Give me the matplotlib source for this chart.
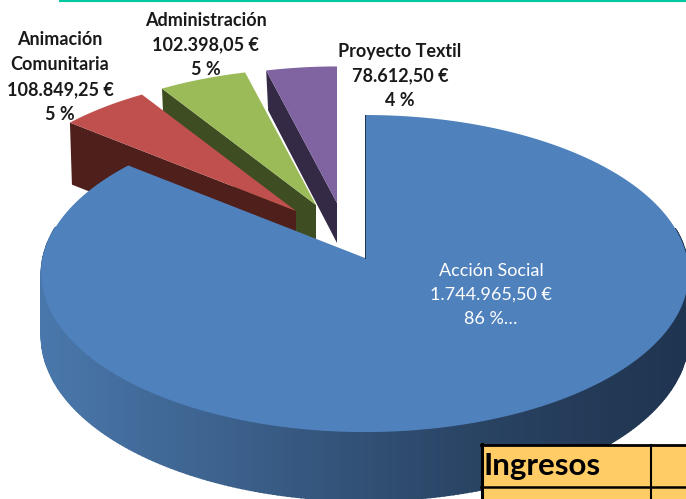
import numpy as np
import matplotlib
matplotlib.use('Agg')
import matplotlib.pyplot as plt
from matplotlib.colors import LinearSegmentedColormap
from matplotlib.patches import Polygon, Rectangle

# chart values
names = ['Acción Social', 'Animación\nComunitaria', 'Administración', 'Proyecto Textil']
amounts = [1744965.50, 108849.25, 102398.05, 78612.50]
amount_labels = ['1.744.965,50 €', '108.849,25 €', '102.398,05 €', '78.612,50 €']
percent_labels = ['86 %…', '5 %', '5 %', '4 %']
table_header = 'Ingresos'

top_colors = ['#4f81bd', '#c0504d', '#9bbb59', '#8064a2']
wall_colors = ['#1f3450', '#4f1f1c', '#3f4d22', '#342a45']
label_pos = [(491, 295), (60, 77), (206, 45), (400, 76)]

# pie shape, in pixels of the picture
RX, RY, K = 322, 157, 0.098
CENTER = (365, 258)
BLUE_DEPTH = 62
SLICE_APEX = [None, (296, 211), (316, 205), (337, 203)]
SLICE_DEPTH = [None, 62, 45, 40]
SLICE_SCALE = 0.955
EDGE_NUDGE = [0, 0, -0.8, -0.7, 0]  # degrees, the gaps in the picture sit a bit further round
FONT = ['Lato', 'Liberation Sans']


def project(theta, apex, scale=1.0):
    # theta in degrees, clockwise from the top
    u = np.sin(np.radians(theta))
    v = np.cos(np.radians(theta))
    s = scale / (1 + K * v)
    return apex[0] + RX * u * s, apex[1] - RY * v * s, s


fig = plt.figure(figsize=(6.86, 4.99), dpi=100)
ax = fig.add_axes([0, 0, 1, 1])
ax.set_xlim(0, 686)
ax.set_ylim(499, 0)
ax.axis('off')

fractions = np.array(amounts) / np.sum(amounts)
edges = np.concatenate([[0], np.cumsum(fractions) * 360])
edges = edges + np.array(EDGE_NUDGE)

# small exploded slices, back to front
for i in [3, 2, 1]:
    th = np.linspace(edges[i], edges[i + 1], 40)
    x, y, s = project(th, SLICE_APEX[i], SLICE_SCALE)
    apex = SLICE_APEX[i]
    d = SLICE_DEPTH[i]
    wall = [apex, (x[0], y[0]), (x[0] + 2, y[0] + d), (apex[0], apex[1] + d)]
    ax.add_patch(Polygon(wall, closed=True, fc=wall_colors[i], ec='none', zorder=2 + 3 - i))
    face = [apex] + list(zip(x, y))
    ax.add_patch(Polygon(face, closed=True, fc=top_colors[i], ec='none', zorder=2 + 3 - i))

# big slice, side first with a gradient
side_cmap = LinearSegmentedColormap.from_list('side', ['#4a77ab', '#3a5e88', '#2a4464', '#1f3450'])
th = np.linspace(edges[0], edges[1], 400)
x, y, s = project(th, CENTER)
for j in range(len(th) - 1):
    if np.cos(np.radians(th[j])) > 0.2:
        continue
    strip = [(x[j], y[j]), (x[j + 1], y[j + 1]),
             (x[j + 1], y[j + 1] + BLUE_DEPTH * s[j + 1]), (x[j], y[j] + BLUE_DEPTH * s[j])]
    col = side_cmap(np.clip((x[j] - 41) / 640, 0, 1))
    ax.add_patch(Polygon(strip, closed=True, fc=col, ec=col, lw=1.2, zorder=6))
face = [CENTER] + list(zip(x, y))
ax.add_patch(Polygon(face, closed=True, fc=top_colors[0], ec='none', zorder=7))
ax.plot([CENTER[0], CENTER[0]], [y[0], CENTER[1]], color='#1f3450', lw=0.7, zorder=8)

# labels
ax.text(label_pos[0][0], label_pos[0][1],
        names[0] + '\n' + amount_labels[0] + '\n' + percent_labels[0],
        color='white', family=FONT, fontsize=13, ha='center', va='center',
        linespacing=1.6, zorder=10)
for i in [1, 2, 3]:
    ax.text(label_pos[i][0], label_pos[i][1],
            names[i] + '\n' + amount_labels[i] + '\n' + percent_labels[i],
            color='#1a1a1a', family=FONT, fontsize=13, fontweight='bold',
            ha='center', va='center', linespacing=1.55, zorder=10)

# teal rule along the top
ax.plot([59, 686], [0.5, 0.5], color='#00c8a0', lw=1.5, zorder=11, solid_capstyle='butt')

# corner of the table
ax.add_patch(Rectangle((482, 445), 210, 60, fc='#ffcc66', ec='none', zorder=12))
ax.plot([482, 482], [444, 499], color='black', lw=2.2, zorder=13)
ax.plot([481, 686], [445, 445], color='black', lw=2, zorder=13)
ax.plot([481, 686], [486.5, 486.5], color='black', lw=1.8, zorder=13)
ax.plot([651, 651], [445, 499], color='black', lw=1.5, zorder=13)
ax.text(484, 466, table_header, color='black', family=FONT, fontsize=22.5, fontweight='bold',
        ha='left', va='center', zorder=14)

fig.savefig('out.png', dpi=100)
